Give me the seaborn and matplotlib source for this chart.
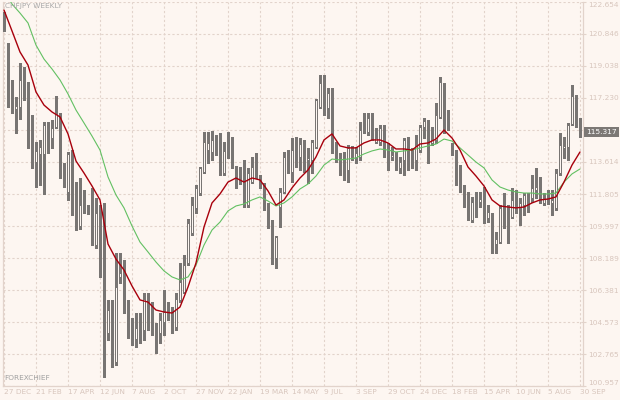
import numpy as np
import pandas as pd
import matplotlib
matplotlib.use("Agg")
import matplotlib.pyplot as plt
import seaborn as sns

# weekly CHFJPY candles, 27 Dec 2015 .. 30 Sep 2018
opens = [121.64, 120.00, 117.51, 116.61, 116.72, 118.42, 117.63, 115.82, 113.61, 114.07,
         114.07, 115.76, 114.97, 115.59, 116.27, 113.22, 111.92, 114.18, 110.73, 110.00,
         111.18, 110.96, 111.02, 108.92, 110.68, 108.81, 103.95, 105.25, 102.31, 107.12,
         107.91, 105.42, 103.95, 103.61, 104.63, 104.12, 105.99, 105.14, 104.12, 103.95,
         104.57, 105.37, 105.25, 104.29, 105.82, 106.27, 107.91, 109.60, 111.02, 111.86,
         113.05, 114.29, 114.18, 114.74, 114.97, 112.99, 115.03, 114.86, 113.22, 113.05,
         112.43, 111.18, 112.48, 113.56, 112.77, 112.20, 111.07, 109.94, 108.19, 111.07,
         111.92, 114.18, 113.05, 114.18, 113.90, 114.41, 113.73, 113.73, 114.46, 116.72,
         118.08, 116.67, 117.40, 114.01, 113.61, 113.56, 113.16, 114.41, 113.90, 113.90,
         115.54, 115.31, 116.21, 114.74, 114.74, 115.54, 114.41, 113.90, 113.90, 113.28,
         113.73, 114.86, 114.29, 113.73, 114.29, 115.59, 115.87, 114.69, 114.86, 116.16,
         117.96, 115.99, 114.57, 114.18, 112.71, 112.20, 111.18, 110.34, 111.30, 111.35,
         111.52, 110.45, 110.62, 108.98, 109.09, 111.13, 110.73, 110.51, 111.30, 111.02,
         111.18, 111.52, 111.58, 112.03, 112.20, 111.30, 111.58, 111.30, 111.02, 112.99,
         114.41, 114.46, 115.76, 117.06, 115.76]
highs = [122.09, 120.34, 118.25, 117.29, 119.21, 118.98, 118.13, 116.27, 114.74, 114.86,
         115.87, 115.87, 115.99, 117.34, 116.38, 113.56, 114.18, 114.29, 112.48, 112.71,
         112.03, 111.18, 112.15, 111.58, 111.18, 111.30, 105.82, 105.82, 108.47, 108.47,
         108.08, 105.82, 104.80, 105.08, 105.08, 106.21, 106.21, 105.70, 104.52, 105.08,
         106.38, 105.70, 105.42, 106.21, 107.91, 108.36, 110.39, 111.64, 112.31, 113.33,
         115.31, 115.31, 115.37, 115.14, 115.25, 114.74, 115.31, 115.03, 113.39, 113.33,
         113.73, 113.28, 113.90, 114.12, 112.88, 112.43, 111.30, 110.34, 109.43, 112.15,
         114.18, 114.29, 114.97, 115.03, 114.97, 114.86, 114.41, 114.86, 117.17, 118.53,
         118.53, 117.80, 117.80, 114.74, 114.12, 114.18, 114.57, 114.52, 114.46, 115.87,
         116.38, 116.38, 116.38, 115.54, 115.70, 115.70, 114.69, 114.46, 114.18, 113.90,
         114.97, 115.03, 114.41, 115.14, 115.70, 116.10, 115.99, 115.59, 116.95, 118.42,
         118.08, 116.55, 114.69, 114.29, 113.44, 112.31, 111.92, 111.64, 111.92, 111.92,
         112.20, 111.18, 110.73, 109.66, 111.18, 111.86, 111.18, 112.15, 112.03, 111.58,
         111.86, 111.86, 112.88, 113.28, 112.77, 111.86, 112.03, 112.03, 113.22, 115.25,
         115.03, 115.82, 117.96, 117.40, 116.10]
lows = [121.02, 116.72, 116.38, 115.25, 116.04, 117.12, 114.41, 113.28, 112.20, 112.31,
        111.81, 114.12, 114.41, 115.54, 112.71, 112.20, 111.47, 110.62, 109.77, 109.83,
        110.73, 110.68, 108.92, 108.76, 107.12, 101.47, 103.56, 102.03, 102.14, 106.78,
        105.08, 103.67, 103.27, 103.16, 103.39, 103.56, 104.12, 103.84, 102.82, 103.39,
        103.84, 104.69, 103.95, 104.12, 105.70, 106.21, 107.79, 109.49, 110.73, 111.75,
        112.99, 113.56, 113.73, 114.01, 112.88, 112.88, 113.84, 113.28, 112.15, 112.37,
        111.07, 111.07, 112.43, 112.71, 112.15, 110.90, 109.89, 107.85, 107.63, 109.94,
        111.86, 112.99, 112.48, 113.33, 113.16, 113.05, 112.43, 112.99, 114.41, 116.67,
        116.27, 116.10, 114.12, 113.61, 112.88, 112.60, 112.48, 113.73, 113.56, 113.73,
        115.25, 115.14, 114.86, 114.69, 114.57, 113.90, 113.16, 113.73, 113.16, 112.99,
        112.88, 113.16, 113.28, 113.16, 114.18, 114.97, 113.56, 114.57, 114.69, 116.10,
        115.25, 115.42, 114.01, 112.31, 111.92, 111.07, 110.34, 110.22, 110.51, 111.07,
        110.17, 110.22, 108.47, 108.47, 109.04, 109.89, 109.04, 110.45, 110.73, 110.05,
        110.62, 110.79, 111.35, 111.58, 111.30, 111.18, 111.24, 110.62, 110.90, 112.88,
        113.84, 113.73, 115.70, 115.59, 115.03]
closes = [121.24, 117.80, 116.72, 116.78, 118.25, 117.85, 115.82, 113.61, 114.24, 114.46,
          115.70, 114.97, 115.54, 116.33, 113.22, 112.31, 114.07, 110.73, 110.00, 111.18,
          111.07, 110.73, 109.09, 110.73, 108.42, 104.86, 105.25, 102.14, 106.55, 107.34,
          105.14, 103.73, 103.78, 104.24, 103.95, 105.87, 105.25, 104.24, 104.01, 104.69,
          105.14, 104.80, 104.35, 105.87, 106.83, 107.79, 110.17, 111.18, 112.15, 113.28,
          114.74, 114.69, 114.86, 114.52, 113.33, 114.24, 113.90, 113.33, 112.88, 112.48,
          111.18, 112.99, 113.33, 112.77, 112.20, 111.02, 109.94, 107.91, 109.38, 111.92,
          113.90, 113.05, 114.29, 113.84, 114.63, 113.73, 113.84, 114.74, 117.12, 118.08,
          116.95, 117.51, 114.18, 113.73, 113.44, 113.16, 114.41, 113.90, 114.12, 115.42,
          115.31, 116.10, 115.14, 114.97, 115.54, 114.01, 113.84, 114.01, 113.33, 113.61,
          114.86, 114.29, 113.73, 114.57, 115.59, 115.93, 114.69, 114.91, 116.27, 118.13,
          115.70, 115.54, 114.12, 112.71, 112.20, 111.30, 110.45, 111.35, 111.35, 111.52,
          110.34, 110.79, 108.98, 109.26, 111.02, 109.94, 110.51, 111.47, 110.90, 111.30,
          111.75, 111.41, 112.15, 112.20, 111.58, 111.58, 111.35, 111.47, 112.99, 114.57,
          114.52, 115.70, 117.34, 115.70, 115.317]

# moving averages, every second week
ma_weeks = list(range(0, 145, 2))
ma_red = [122.20, 121.02, 119.83, 119.09, 117.57, 116.83, 116.44, 116.16, 115.20, 113.67,
          112.99, 112.26, 111.47, 108.98, 108.13, 107.51, 106.61, 105.82, 105.70, 105.25,
          105.14, 105.08, 105.42, 106.55, 107.91, 109.94, 111.30, 111.81, 112.48, 112.71,
          112.48, 112.71, 112.60, 111.98, 111.18, 111.47, 112.15, 112.71, 113.16, 113.90,
          114.86, 115.20, 114.52, 114.41, 114.41, 114.69, 114.86, 114.86, 114.69, 114.35,
          114.35, 114.29, 114.63, 114.69, 114.91, 115.42, 114.97, 114.29, 113.33, 112.82,
          112.26, 111.47, 111.13, 111.07, 111.02, 111.07, 111.30, 111.47, 111.52, 111.64,
          112.48, 113.44, 114.18]
ma_green = [123.28, 122.54, 122.03, 121.47, 120.22, 119.43, 118.87, 118.25, 117.46, 116.55,
            115.82, 115.08, 114.29, 112.77, 111.75, 111.02, 110.00, 109.09, 108.53, 107.96,
            107.46, 107.12, 106.95, 107.12, 107.79, 108.92, 109.77, 110.22, 110.85, 111.13,
            111.24, 111.47, 111.64, 111.41, 111.13, 111.30, 111.64, 112.09, 112.37, 112.82,
            113.44, 113.78, 113.73, 113.78, 113.84, 114.07, 114.24, 114.35, 114.29, 114.18,
            114.24, 114.29, 114.41, 114.52, 114.63, 114.91, 114.80, 114.41, 114.01, 113.61,
            113.28, 112.60, 112.20, 112.03, 111.92, 111.86, 111.86, 111.81, 111.81, 111.86,
            112.48, 112.94, 113.22]

date_labels = ["27 DEC", "21 FEB", "17 APR", "12 JUN", "7 AUG", "2 OCT", "27 NOV",
               "22 JAN", "19 MAR", "14 MAY", "9 JUL", "3 SEP", "29 OCT", "24 DEC",
               "18 FEB", "15 APR", "10 JUN", "5 AUG", "30 SEP"]
price_ticks = [100.957, 102.765, 104.573, 106.381, 108.189, 109.997, 111.805,
               113.614, 115.422, 117.230, 119.038, 120.846, 122.654]
last_price = 115.317

bg = "#fdf6f1"
frame_c = "#e2d3cb"
label_c = "#d8c6bd"
candle_c = "#787573"

sns.set_theme(style="white", rc={"axes.facecolor": bg, "figure.facecolor": bg})
plt.rcParams["font.family"] = ["DejaVu Sans"]

df = pd.DataFrame({"open": opens, "high": highs, "low": lows, "close": closes})
df["week"] = np.arange(len(df))
df["bottom"] = df[["open", "close"]].min(axis=1)
df["height"] = (df["close"] - df["open"]).abs().clip(lower=0.04)
up = df["close"] >= df["open"]

fig = plt.figure(figsize=(6.2, 4.0), dpi=100)
ax = fig.add_axes([3 / 620, 14 / 400, 580 / 620, 384 / 400])

ax.vlines(df["week"], df["low"], df["high"], color=candle_c, lw=0.75, zorder=3,
          antialiased=False)
ax.bar(df.loc[~up, "week"], df.loc[~up, "height"], bottom=df.loc[~up, "bottom"],
       width=0.75, color=candle_c, lw=0, zorder=4, antialiased=False)
ax.bar(df.loc[up, "week"], df.loc[up, "height"], bottom=df.loc[up, "bottom"],
       width=0.55, facecolor=bg, edgecolor=candle_c, lw=0.6, zorder=4, antialiased=False)

sns.lineplot(x=ma_weeks, y=ma_green, ax=ax, color="#62c062", lw=0.8, zorder=5)
sns.lineplot(x=ma_weeks, y=ma_red, ax=ax, color="#a8000c", lw=1.0, zorder=6)

ax.set_xlim(-0.25, 144.75)
ax.set_ylim(price_ticks[0], price_ticks[-1])
ax.set_xticks(range(0, 145, 8))
ax.set_xticklabels(date_labels, ha="left")
ax.set_yticks(price_ticks)
# the 115.422 label sits under the last-price tag
ax.set_yticklabels(["" if t == 115.422 else f"{t:.3f}" for t in price_ticks])
ax.yaxis.tick_right()
ylabels = ax.get_yticklabels()
ylabels[0].set_va("bottom")
ylabels[-1].set_va("top")
ax.grid(True, color=frame_c, lw=0.8, ls=(0, (2, 2)))
ax.set_axisbelow(True)
ax.tick_params(axis="x", length=0, pad=2, labelsize=5.3, labelcolor=label_c)
ax.tick_params(axis="y", length=2, width=0.8, color=frame_c, pad=1.5, labelsize=5.3,
               labelcolor=label_c)
for side in ["left", "bottom", "right"]:
    ax.spines[side].set_color(frame_c)
    ax.spines[side].set_linewidth(0.9)
ax.spines["top"].set_visible(False)
ax.set_xlabel("")
ax.set_ylabel("")

ax.text(1.0 + 3 / 580, last_price, f"{last_price:.3f}", transform=ax.get_yaxis_transform(),
        ha="left", va="center", fontsize=5.3, color="white", clip_on=False, zorder=10,
        bbox=dict(boxstyle="square,pad=0.3", fc="#7c7875", ec="none"))

fig.text(5 / 620, 1 - 3 / 400, "CHFJPY WEEKLY", ha="left", va="top", fontsize=5.3,
         color="#a9a9a9", zorder=10)
fig.text(4 / 620, 1 - 375 / 400, "FOREXCHIEF", ha="left", va="top", fontsize=5.3,
         color="#a0a0a0")

fig.savefig("out.png", dpi=100, facecolor=bg)
